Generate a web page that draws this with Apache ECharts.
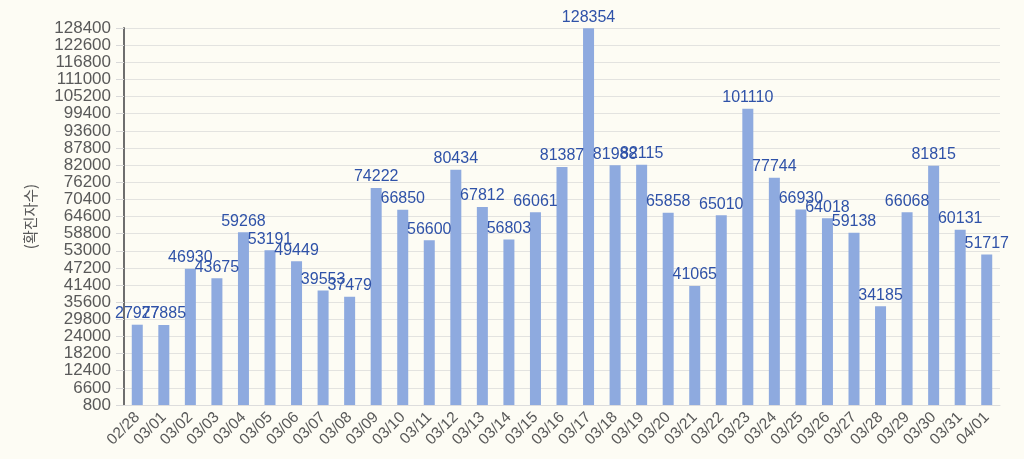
<!DOCTYPE html>
<html><head><meta charset="utf-8">
<script src="https://cdn.jsdelivr.net/npm/echarts@6/dist/echarts.min.js"></script>
<style>html,body{margin:0;padding:0;background:#fdfcf4;}#c{width:1024px;height:459px;}</style>
</head><body><div id="c"></div>
<script>
var categories = ["02/28","03/01","03/02","03/03","03/04","03/05","03/06","03/07","03/08","03/09","03/10","03/11","03/12","03/13","03/14","03/15","03/16","03/17","03/18","03/19","03/20","03/21","03/22","03/23","03/24","03/25","03/26","03/27","03/28","03/29","03/30","03/31","04/01"];
var cases = [27977,27885,46930,43675,59268,53191,49449,39553,37479,74222,66850,56600,80434,67812,56803,66061,81387,128354,81988,82115,65858,41065,65010,101110,77744,66930,64018,59138,34185,66068,81815,60131,51717];
var yTicks = [800,6600,12400,18200,24000,29800,35600,41400,47200,53000,58800,64600,70400,76200,82000,87800,93600,99400,105200,111000,116800,122600,128400];
var chart = echarts.init(document.getElementById('c'));
chart.setOption({
  backgroundColor: '#fdfcf4',
  animation: false,
  grid: {left: 124, right: 24, top: 28, bottom: 54, containLabel: false},
  xAxis: {
    type: 'category', data: categories,
    axisLine: {show: true, lineStyle: {color: '#dddddd'}},
    axisTick: {show: false},
    axisLabel: {rotate: 45, color: '#595959', fontSize: 15.5, fontFamily: 'Liberation Sans', margin: 10, interval: 0}
  },
  yAxis: {
    type: 'value', min: 800, max: 128400,
    name: '(확진자수)', nameLocation: 'middle', nameGap: 86, nameRotate: 90,
    nameTextStyle: {color: '#595959', fontSize: 15, fontFamily: 'Noto Sans CJK KR'},
    axisLine: {show: true, lineStyle: {color: '#6e6e6e', width: 2}},
    axisTick: {show: true, customValues: yTicks, length: 8, lineStyle: {color: '#d9d9d9'}},
    axisLabel: {customValues: yTicks, formatter: function (v) { return String(v); }, color: '#595959', fontSize: 17, fontFamily: 'Liberation Sans', margin: 13},
    splitLine: {show: true, lineStyle: {color: '#e3e3e0'}}
  },
  series: [{
    type: 'bar', data: cases, barWidth: 11,
    itemStyle: {color: '#8eaadf'},
    label: {show: true, position: 'top', distance: 3, color: '#2f52a8', fontSize: 16, fontFamily: 'Liberation Sans'}
  }]
});
</script></body></html>
